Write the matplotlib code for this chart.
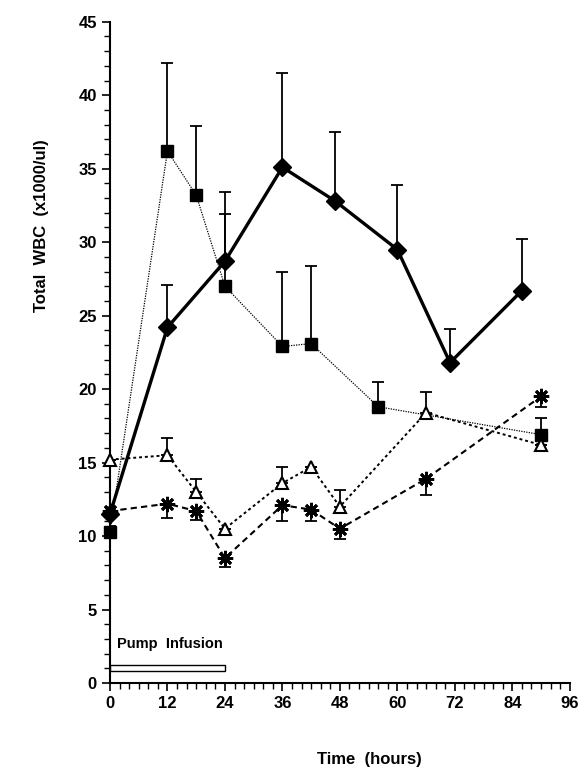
import matplotlib.pyplot as plt
from matplotlib.patches import Rectangle
from matplotlib.ticker import MultipleLocator

plt.rcParams['font.family'] = ['Liberation Sans', 'DejaVu Sans']
plt.rcParams['font.weight'] = 'bold'

# diamonds - solid heavy line, upper error bars
dia_t = [0, 12, 24, 36, 47, 60, 71, 86]
dia_y = [11.5, 24.2, 28.7, 35.1, 32.8, 29.5, 21.8, 26.7]
dia_err = [0.5, 2.9, 4.7, 6.4, 4.7, 4.4, 2.3, 3.5]

# squares - thin dotted line, upper error bars
sq_t = [0, 12, 18, 24, 36, 42, 56, 90]
sq_y = [10.3, 36.2, 33.2, 27.0, 22.9, 23.1, 18.8, 16.9]
sq_err = [0.4, 6.0, 4.7, 4.9, 5.1, 5.3, 1.7, 1.1]

# open triangles - dotted line, upper error bars
tri_t = [0, 12, 18, 24, 36, 42, 48, 66, 90]
tri_y = [15.2, 15.5, 13.0, 10.5, 13.6, 14.7, 12.0, 18.4, 16.2]
tri_err = [0.0, 1.2, 0.9, 0.0, 1.1, 0.0, 1.1, 1.4, 0.0]

# asterisks - dashed line, lower error bars
st_t = [0, 12, 18, 24, 36, 42, 48, 66, 90]
st_y = [11.7, 12.2, 11.7, 8.5, 12.1, 11.8, 10.5, 13.9, 19.5]
st_err = [0.5, 1.0, 0.6, 0.6, 1.1, 0.8, 0.7, 1.1, 0.7]

fig = plt.figure(figsize=(5.82, 7.77), dpi=100)
ax = fig.add_axes([0.189, 0.121, 0.790, 0.851])

err_kw = dict(fmt='none', ecolor='black', elinewidth=1.3, capsize=4, capthick=1.3)

ax.errorbar(dia_t, dia_y, yerr=[[0] * len(dia_err), dia_err], **err_kw)
ax.errorbar(sq_t, sq_y, yerr=[[0] * len(sq_err), sq_err], **err_kw)
ax.errorbar(tri_t, tri_y, yerr=[[0] * len(tri_err), tri_err], **err_kw)
ax.errorbar(st_t, st_y, yerr=[st_err, [0] * len(st_err)], **err_kw)

ax.plot(sq_t, sq_y, color='black', lw=0.9, ls=(0, (1, 1)), clip_on=False,
        marker='s', ms=8.5, mfc='black', mec='black', zorder=3)
ax.plot(tri_t, tri_y, color='black', lw=1.4, ls=(0, (1.5, 1.5)), clip_on=False,
        marker='^', ms=9, mfc='white', mec='black', mew=1.5, zorder=3)
ax.plot(st_t, st_y, color='black', lw=1.5, ls=(0, (3, 2)), clip_on=False,
        marker=(8, 2, 0), ms=11, mec='black', mew=2, zorder=3)
ax.plot(dia_t, dia_y, color='black', lw=2.4, ls='-', clip_on=False,
        marker='D', ms=9, mfc='black', mec='black', zorder=4)

# pump infusion bar
ax.add_patch(Rectangle((0, 0.8), 24, 0.4, facecolor='white',
                       edgecolor='black', lw=1.0, zorder=2))
ax.text(1.5, 2.65, 'Pump  Infusion', fontsize=10.5, fontweight='bold', va='center')

ax.set_xlim(0, 96)
ax.set_ylim(0, 45)
ax.xaxis.set_major_locator(MultipleLocator(12))
ax.xaxis.set_minor_locator(MultipleLocator(2))
ax.yaxis.set_major_locator(MultipleLocator(5))
ax.yaxis.set_minor_locator(MultipleLocator(1))
ax.tick_params(which='major', length=6, width=1.2, labelsize=12, direction='out')
ax.tick_params(which='minor', length=4, width=1.0, direction='out')
for lab in ax.get_xticklabels() + ax.get_yticklabels():
    lab.set_fontweight('bold')

for side in ['top', 'right']:
    ax.spines[side].set_visible(False)
for side in ['left', 'bottom']:
    ax.spines[side].set_linewidth(1.5)

fig.text(0.635, 0.013, 'Time  (hours)', fontsize=12, fontweight='bold', ha='center', va='bottom')
fig.text(0.072, 0.71, 'Total  WBC  (x1000/ul)', fontsize=12, fontweight='bold',
         ha='center', va='center', rotation=90)

fig.savefig('out.png', dpi=100)
